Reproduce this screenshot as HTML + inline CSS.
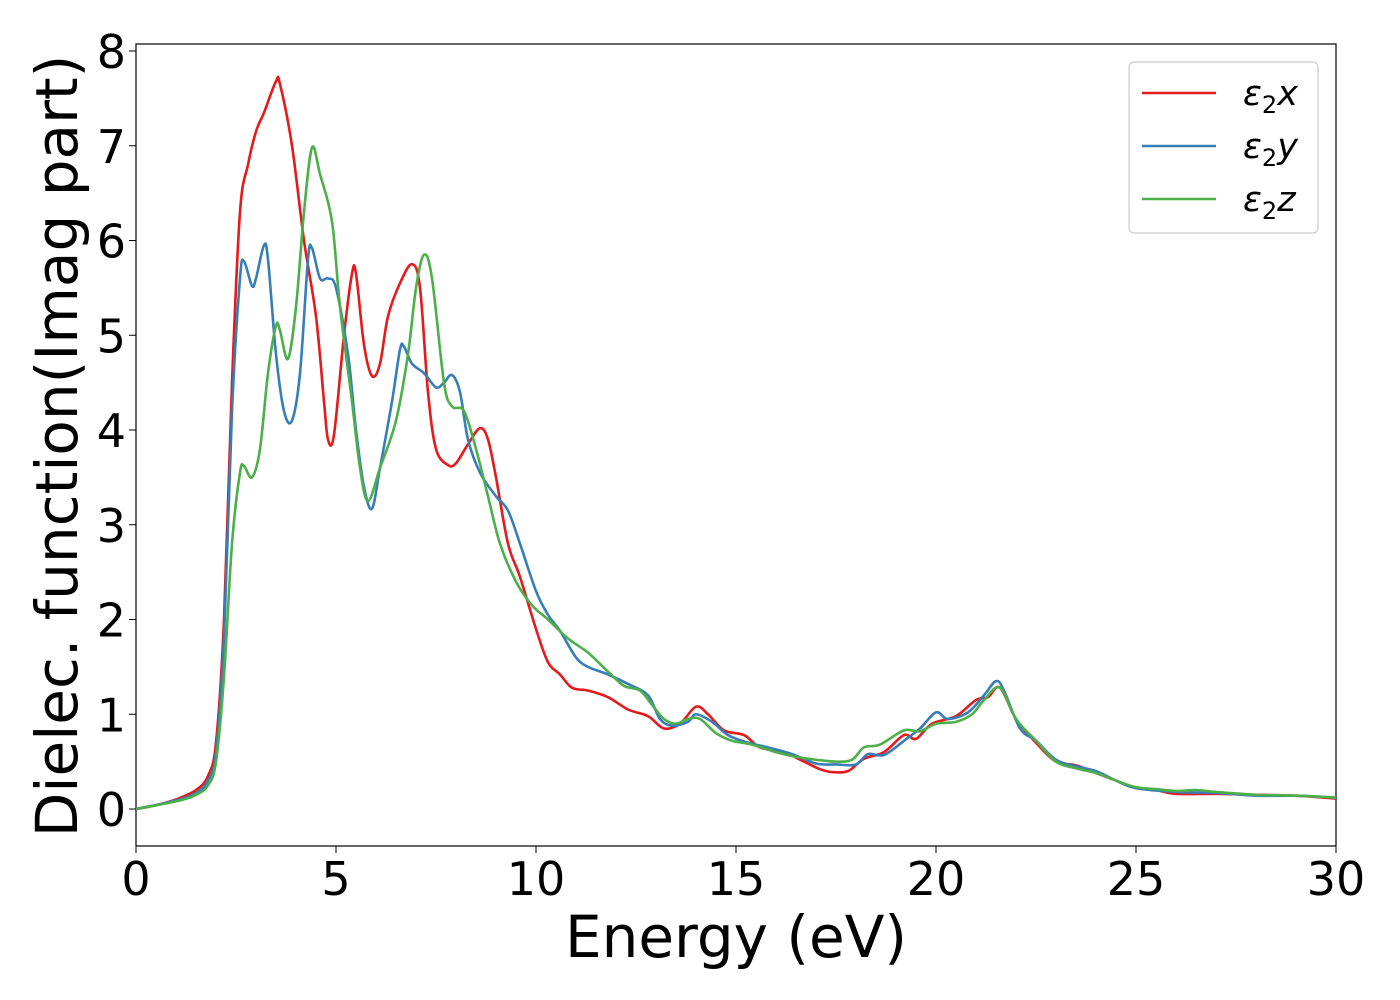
<!DOCTYPE html>
<html><head><meta charset="utf-8"><style>
html,body{margin:0;padding:0;background:#fff;}
svg{display:block;font-family:"DejaVu Sans","Liberation Sans",sans-serif;}
</style></head><body>
<svg id="chart" width="1400" height="1000">
<rect x="136" y="44" width="1200" height="802" fill="#fff" stroke="#000" stroke-width="1.2"/>
<g id="series"></g>
<g id="xticks"></g>
<g id="yticks"></g>
<text x="736" y="957" font-size="58" text-anchor="middle">Energy (eV)</text>
<text transform="translate(77,446) rotate(-90)" font-size="58" text-anchor="middle">Dielec. function(Imag part)</text>
<g>
<rect x="1129" y="62" width="189" height="171" rx="5" fill="#fff" stroke="#ccc" stroke-width="1.2"/>
<line x1="1142" y1="93" x2="1216" y2="93" stroke="#e41a1c" stroke-width="2.6"/>
<text x="1243" y="105" font-size="35" font-style="italic">ε<tspan font-style="normal" font-size="24" dy="8">2</tspan><tspan dy="-8">x</tspan></text>
<line x1="1142" y1="146" x2="1216" y2="146" stroke="#377eb8" stroke-width="2.6"/>
<text x="1243" y="158" font-size="35" font-style="italic">ε<tspan font-style="normal" font-size="24" dy="8">2</tspan><tspan dy="-8">y</tspan></text>
<line x1="1142" y1="199" x2="1216" y2="199" stroke="#4daf4a" stroke-width="2.6"/>
<text x="1243" y="211" font-size="35" font-style="italic">ε<tspan font-style="normal" font-size="24" dy="8">2</tspan><tspan dy="-8">z</tspan></text>
</g>
</svg>
<script>
const xTicks=[0,5,10,15,20,25,30];
const yTicks=[0,1,2,3,4,5,6,7,8];
const redX=[0,0.5,1,1.5,1.8,2,2.2,2.4,2.6,2.8,3.0,3.2,3.5,3.6,3.9,4.2,4.5,4.7,4.8,4.95,5.2,5.4,5.5,5.7,5.9,6.1,6.3,6.6,6.9,7.1,7.3,7.5,7.8,8.0,8.3,8.6,8.8,9.0,9.3,9.6,10,10.3,10.6,10.9,11.3,11.8,12.3,12.8,13.2,13.6,14.0,14.3,14.7,15.2,15.6,16.2,16.7,17.1,17.4,17.8,18.2,18.7,19.2,19.5,19.9,20.5,21.0,21.3,21.6,22.0,22.5,23,23.5,24,24.5,25,25.5,26,27,28,29,30];
const redY=[0,0.04,0.1,0.2,0.35,0.7,2.0,4.5,6.3,6.8,7.15,7.35,7.68,7.65,7.0,6.0,5.2,4.3,3.9,3.95,5.0,5.65,5.65,4.9,4.57,4.7,5.2,5.55,5.75,5.5,4.4,3.8,3.63,3.65,3.85,4.02,3.9,3.5,2.8,2.45,1.9,1.55,1.42,1.28,1.25,1.18,1.05,0.98,0.85,0.9,1.08,1.0,0.83,0.78,0.65,0.6,0.5,0.42,0.39,0.4,0.53,0.6,0.78,0.74,0.9,0.98,1.15,1.18,1.28,0.95,0.7,0.5,0.46,0.38,0.3,0.22,0.2,0.16,0.16,0.15,0.14,0.11];
const blueX=[0,1,1.5,1.8,2,2.2,2.4,2.6,2.7,2.9,3.0,3.2,3.3,3.5,3.7,3.9,4.1,4.3,4.4,4.6,4.8,5.0,5.3,5.5,5.7,5.9,6.1,6.4,6.6,6.7,6.9,7.2,7.5,7.7,7.9,8.1,8.3,8.6,9,9.3,9.6,10,10.3,10.6,11,11.3,11.8,12.3,12.8,13.1,13.4,13.8,14.0,14.4,14.8,15.3,15.8,16.4,17,17.5,18.0,18.3,18.7,19.2,19.6,20.0,20.3,20.8,21.2,21.5,21.7,22.1,22.5,23,23.5,24,24.5,25,26,27,28,29,30];
const blueY=[0,0.09,0.17,0.3,0.6,1.8,4.2,5.6,5.78,5.52,5.6,5.95,5.8,4.8,4.2,4.1,4.6,5.8,5.92,5.6,5.6,5.5,4.8,4.0,3.4,3.17,3.6,4.3,4.85,4.88,4.7,4.6,4.45,4.5,4.58,4.4,3.9,3.55,3.3,3.15,2.8,2.3,2.05,1.88,1.6,1.5,1.42,1.32,1.2,0.95,0.88,0.92,1.0,0.92,0.78,0.7,0.65,0.58,0.48,0.47,0.47,0.58,0.57,0.72,0.85,1.02,0.95,1.02,1.2,1.35,1.25,0.85,0.72,0.52,0.45,0.4,0.3,0.22,0.18,0.17,0.14,0.14,0.12];
const greenX=[0,1,1.5,1.8,2,2.2,2.4,2.6,2.7,2.9,3.1,3.3,3.5,3.6,3.8,4.0,4.2,4.4,4.6,4.9,5.1,5.4,5.6,5.8,6.1,6.5,6.8,7.0,7.2,7.4,7.7,7.9,8.2,8.5,8.8,9.1,9.5,9.9,10.3,10.8,11.3,11.8,12.2,12.6,12.9,13.2,13.5,13.8,14.1,14.5,14.9,15.4,16,16.5,17,17.5,17.9,18.2,18.6,19.2,19.6,20,20.5,20.9,21.2,21.6,22,22.5,23,23.5,24,24.5,25,25.5,26,26.5,27,28,29,30];
const greenY=[0,0.08,0.15,0.25,0.5,1.4,2.8,3.55,3.62,3.5,3.8,4.6,5.1,5.05,4.75,5.3,6.3,6.98,6.7,6.2,5.3,4.3,3.6,3.25,3.6,4.1,4.8,5.5,5.85,5.6,4.5,4.25,4.2,3.8,3.3,2.8,2.4,2.15,2.0,1.8,1.65,1.45,1.3,1.25,1.1,0.95,0.9,0.95,0.95,0.8,0.72,0.68,0.6,0.55,0.52,0.5,0.52,0.65,0.68,0.83,0.82,0.9,0.92,1.0,1.15,1.28,0.95,0.72,0.5,0.43,0.38,0.3,0.23,0.21,0.19,0.2,0.18,0.15,0.14,0.12];
const NS="http://www.w3.org/2000/svg";
function sx(v){return 136+v*40;}
function sy(v){return 809-v*94.75;}
function pathFor(xs,ys){
  const p=xs.map((x,i)=>[sx(x),sy(ys[i])]);
  let d="M"+p[0][0]+","+p[0][1];
  for(let i=0;i<p.length-1;i++){
    const p0=p[Math.max(i-1,0)],p1=p[i],p2=p[i+1],p3=p[Math.min(i+2,p.length-1)];
    const c1x=p1[0]+(p2[0]-p0[0])/6,c1y=p1[1]+(p2[1]-p0[1])/6;
    const c2x=p2[0]-(p3[0]-p1[0])/6,c2y=p2[1]-(p3[1]-p1[1])/6;
    d+=" C"+c1x+","+c1y+" "+c2x+","+c2y+" "+p2[0]+","+p2[1];
  }
  return d;
}
const g=document.getElementById("series");
[[redX,redY,"#e41a1c","series-eps2x"],[blueX,blueY,"#377eb8","series-eps2y"],[greenX,greenY,"#4daf4a","series-eps2z"]].forEach(s=>{
  const el=document.createElementNS(NS,"path");
  el.setAttribute("d",pathFor(s[0],s[1]));
  el.setAttribute("fill","none");el.setAttribute("stroke",s[2]);el.setAttribute("stroke-width","2.6");
  
  
  g.appendChild(el);
});
const xg=document.getElementById("xticks");
xTicks.forEach(t=>{
  const l=document.createElementNS(NS,"line");
  l.setAttribute("x1",sx(t));l.setAttribute("x2",sx(t));l.setAttribute("y1",846);l.setAttribute("y2",853);l.setAttribute("stroke","#000");
  
  
  xg.appendChild(l);
  const tx=document.createElementNS(NS,"text");
  tx.setAttribute("x",sx(t));tx.setAttribute("y",895);tx.setAttribute("font-size","46");tx.setAttribute("text-anchor","middle");
  tx.textContent=t;
  
  
  xg.appendChild(tx);
});
const yg=document.getElementById("yticks");
yTicks.forEach(t=>{
  const l=document.createElementNS(NS,"line");
  l.setAttribute("x1",129);l.setAttribute("x2",136);l.setAttribute("y1",sy(t));l.setAttribute("y2",sy(t));l.setAttribute("stroke","#000");
  
  
  yg.appendChild(l);
  const tx=document.createElementNS(NS,"text");
  tx.setAttribute("x",126);tx.setAttribute("y",sy(t)+17);tx.setAttribute("font-size","46");tx.setAttribute("text-anchor","end");
  tx.textContent=t;
  
  
  yg.appendChild(tx);
});
</script>
</body></html>
